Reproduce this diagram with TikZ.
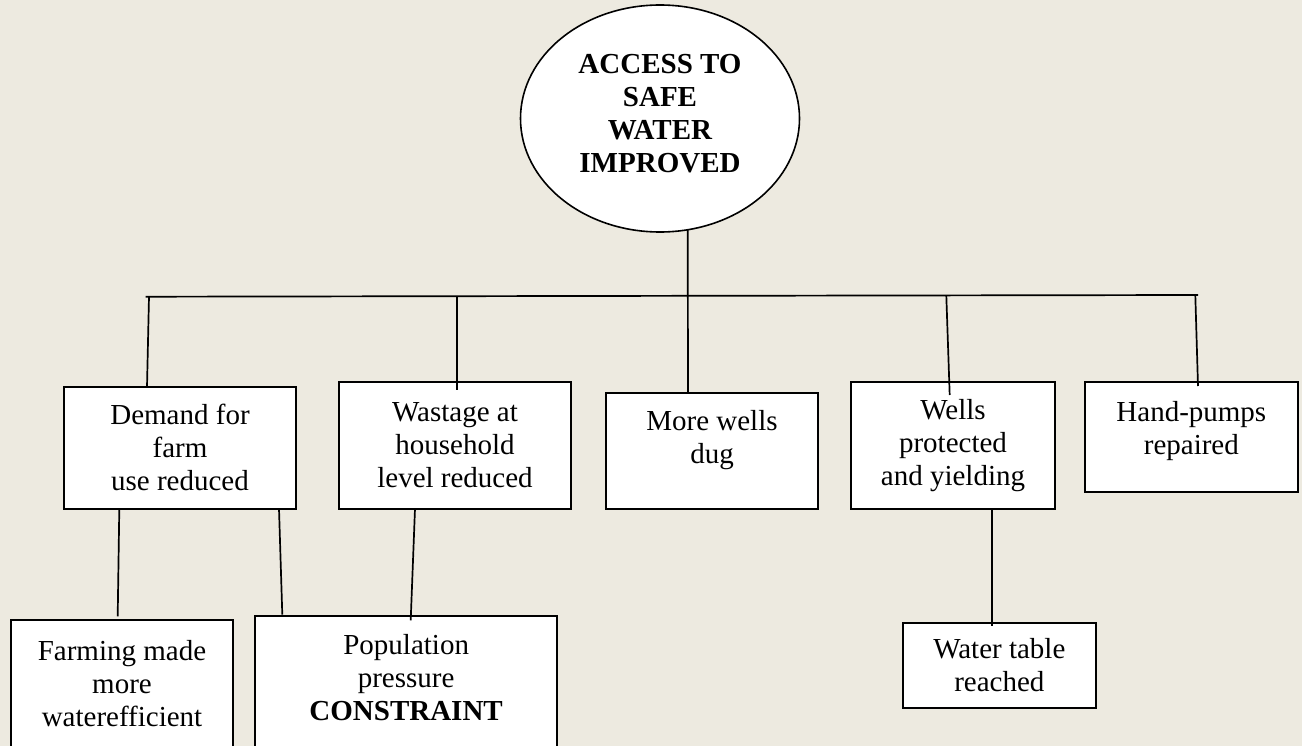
\documentclass[tikz,border=0pt]{standalone}
\usepackage{fontspec}
\setmainfont{Liberation Serif}
\usetikzlibrary{shapes.geometric,calc}
\definecolor{bgc}{RGB}{237,234,224}
\begin{document}
\begin{tikzpicture}[x=1pt,y=-1pt,
  box/.style={draw, line width=2pt, fill=white, rectangle, inner sep=0pt, outer sep=0pt,
    align=center, font=\fontsize{29}{33}\selectfont},
  goal/.style={draw, line width=1.6pt, fill=white, ellipse, inner sep=0pt, outer sep=0pt,
    align=center, font=\fontsize{29}{33}\selectfont\bfseries},
  conn/.style={line width=1.7pt}
]
\useasboundingbox (0,0) rectangle (1302,746);
\fill[bgc] (0,0) rectangle (1302,746);
\clip (0,0) rectangle (1302,746);

% goal
\node[goal, minimum width=279pt, minimum height=227pt] (ell) at (660,118.5)
  {ACCESS TO\\SAFE\\WATER\\IMPROVED\rule[-11pt]{0pt}{0pt}};

% level 1
\node[box, minimum width=232pt, minimum height=121.7pt] (demand) at (180,447.85)
  {Demand for\\farm\\use reduced};
\node[box, minimum width=232pt, minimum height=126.7pt] (wastage) at (455,445.35)
  {Wastage at\\household\\level reduced};
\node[box, minimum width=212pt, minimum height=116pt] (morewells) at (712,450.7)
  {More wells\\dug\rule[-28pt]{0pt}{0pt}};
\node[box, minimum width=204pt, minimum height=126.7pt] (wells) at (953,445.35)
  {Wells\\protected\\and yielding};
\node[box, minimum width=213.3pt, minimum height=110.3pt] (pumps) at (1191.35,437.15)
  {Hand-pumps\\repaired\rule[-19pt]{0pt}{0pt}};

% level 2
\node[box, minimum width=222.6pt, minimum height=127.3pt] (farming) at (122,683.35)
  {Farming made\\more\\waterefficient};
\node[box, minimum width=302.3pt, minimum height=130.7pt] (population) at (406.15,681.65)
  {Population\\pressure\\\textbf{CONSTRAINT}\rule[-8pt]{0pt}{0pt}};
\node[box, minimum width=192.7pt, minimum height=85pt] (water) at (999.35,665.5)
  {Water table\\reached};

% bar
\coordinate (barL) at (145.7,296.7);
\coordinate (barR) at (1198,295);
\coordinate (jd) at (149,296.6);
\coordinate (jw) at (456.7,296.1);
\coordinate (jwe) at (946.3,295.3);
\coordinate (jh) at (1195.3,295);
\draw[conn] (barL) -- (barR);

% connectors
\draw[conn] (ell.-76) -- ([xshift=-24pt]morewells.north);
\draw[conn] (jd) -- ([xshift=-33pt]demand.north);
\draw[conn] (jw) -- ([xshift=1.7pt,yshift=-8pt]wastage.north);
\draw[conn] (jwe) -- ([xshift=-3.3pt,yshift=-13pt]wells.north);
\draw[conn] (jh) -- ([xshift=6.65pt,yshift=-4pt]pumps.north);

\draw[conn] ([xshift=-60.7pt]demand.south) -- ([xshift=-4.3pt,yshift=3.4pt]farming.north);
\draw[conn] ([xshift=99pt]demand.south) -- ([xshift=-123.85pt,yshift=1.6pt]population.north);
\draw[conn] ([xshift=-40pt]wastage.south) -- ([xshift=4.55pt,yshift=-4pt]population.north);
\draw[conn] ([xshift=39pt]wells.south) -- ([xshift=-7.35pt,yshift=-3.3pt]water.north);
\end{tikzpicture}
\end{document}
